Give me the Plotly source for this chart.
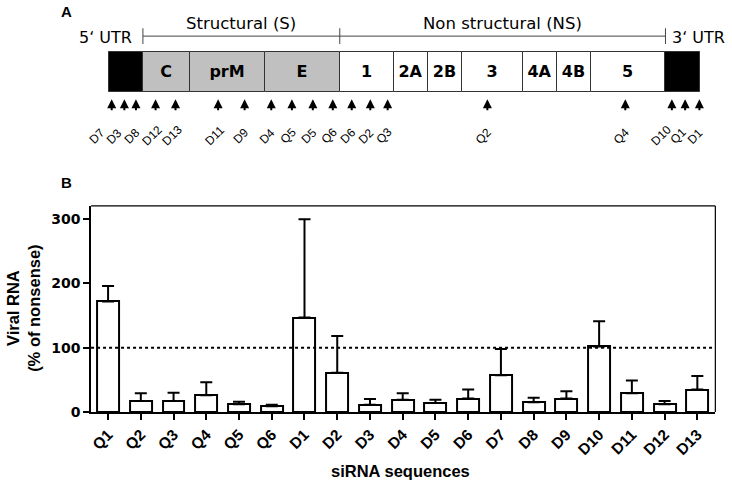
import plotly.graph_objects as go

# ---------------- data ----------------
sirna = ["Q1", "Q2", "Q3", "Q4", "Q5", "Q6", "D1", "D2", "D3", "D4", "D5", "D6",
         "D7", "D8", "D9", "D10", "D11", "D12", "D13"]
viral_rna = [172, 17, 17, 26, 12, 9, 147, 61, 11, 19, 14, 21, 57, 15, 21, 102, 29, 12, 35]
err_upper = [24, 12, 13, 20, 4, 2, 153, 57, 9, 10, 5, 14, 41, 7, 11, 39, 20, 5, 21]

seg_names = ["", "C", "prM", "E", "1", "2A", "2B", "3", "4A", "4B", "5", ""]
seg_starts = [0, 34, 81.4, 156.7, 231.4, 285.4, 320, 354, 415.4, 449.4, 483.4, 558]
seg_ends = [34, 81.4, 156.7, 231.4, 285.4, 320, 354, 415.4, 449.4, 483.4, 558, 592.7]
seg_colors = ["black", "#c0c0c0", "#c0c0c0", "#c0c0c0", "white", "white", "white",
              "white", "white", "white", "white", "black"]

site_names = ["D7", "D3", "D8", "D12", "D13", "D11", "D9", "D4", "Q5", "D5", "Q6",
              "D6", "D2", "Q3", "Q2", "Q4", "D10", "Q1", "D1"]
site_pos = [2.7, 15.4, 27, 46.7, 66.7, 109.4, 136, 162.7, 183.4, 204.4, 224.4,
            243.4, 262, 279.4, 379.4, 517.7, 564.4, 577.7, 592]

ARIAL = "Liberation Sans, Arial, sans-serif"
DEJAVU = "DejaVu Sans, sans-serif"

W, H = 732, 494
# genome panel geometry (page pixels)
G_LEFT, G_RIGHT = 107.3, 700.0
G_TOP, G_BOT = 52.7, 94.0
UNIT = G_BOT - G_TOP


def py2(p):
    """page pixel row -> genome-panel y value"""
    return 0.5 - (p - G_TOP) / UNIT


fig = go.Figure()

# ---------------- panel B: bar chart ----------------
fig.add_trace(go.Bar(
    x=list(range(len(sirna))), y=viral_rna, width=0.67,
    marker=dict(color="white", line=dict(color="black", width=2)),
    error_y=dict(type="data", array=err_upper, arrayminus=[0] * len(err_upper),
                 symmetric=False, color="black", thickness=2, width=6),
    xaxis="x", yaxis="y", showlegend=False,
))

fig.add_shape(type="line", xref="x domain", yref="y", x0=0, x1=1, y0=100, y1=100,
              line=dict(color="black", width=2, dash="dot"))

# ---------------- panel A: genome map ----------------
fig.add_trace(go.Bar(
    y=[0] * len(seg_names), x=[e - s for s, e in zip(seg_starts, seg_ends)],
    base=seg_starts, orientation="h", width=1,
    marker=dict(color=seg_colors, line=dict(color="#333333", width=1)),
    text=seg_names, textposition="inside", insidetextanchor="middle",
    textfont=dict(family=DEJAVU, size=16, color="black"),
    texttemplate="<b>%{text}</b>", hoverinfo="skip", cliponaxis=False,
    xaxis="x2", yaxis="y2", showlegend=False,
))

# brackets for structural / non-structural regions
s_start, s_end = seg_starts[1], seg_ends[3]
ns_start, ns_end = seg_starts[4], seg_ends[10]
br_y = py2(36.7)
tick_h = 8 / UNIT
for x0, x1 in [(s_start, s_end), (ns_start, ns_end)]:
    fig.add_shape(type="line", xref="x2", yref="y2", x0=x0, x1=x1, y0=br_y, y1=br_y,
                  line=dict(color="#444444", width=1))
for xv in [s_start, s_end, ns_end]:
    fig.add_shape(type="line", xref="x2", yref="y2", x0=xv, x1=xv,
                  y0=br_y - tick_h, y1=br_y + tick_h,
                  line=dict(color="#444444", width=1))

ann = []
ann.append(dict(x=(s_start + s_end) / 2, y=py2(23.5), xref="x2", yref="y2",
                xanchor="center", yanchor="middle",
                text="Structural (S)", showarrow=False,
                font=dict(family=DEJAVU, size=16.5, color="black")))
ann.append(dict(x=(ns_start + ns_end) / 2, y=py2(23.5), xref="x2", yref="y2",
                xanchor="center", yanchor="middle",
                text="Non structural (NS)", showarrow=False,
                font=dict(family=DEJAVU, size=16.5, color="black")))
ann.append(dict(x=s_start - 8.6, y=py2(38.5), xref="x2", yref="y2", xanchor="right",
                yanchor="middle", text="5‘ UTR", showarrow=False,
                font=dict(family=DEJAVU, size=16, color="black")))
ann.append(dict(x=ns_end + 5, y=py2(38.5), xref="x2", yref="y2", xanchor="left",
                yanchor="middle", text="3‘ UTR", showarrow=False,
                font=dict(family=DEJAVU, size=16, color="black")))

# arrows and rotated labels (labels pushed apart where crowded)
label_x = [p - 4 for p in site_pos]
for i in range(len(label_x) - 2, -1, -1):
    label_x[i] = min(label_x[i], label_x[i + 1] - 17.5)

for name, pos, lx in zip(site_names, site_pos, label_x):
    ann.append(dict(x=pos, y=py2(101), ax=pos, ay=py2(112.5), xref="x2", yref="y2",
                    axref="x2", ayref="y2", text="", showarrow=True,
                    font=dict(size=1), borderpad=0,
                    arrowhead=2, arrowsize=0.9, arrowwidth=2, arrowcolor="black"))
    ann.append(dict(x=lx, y=py2(138), xref="x2", yref="y2", text=name,
                    xanchor="center", yanchor="middle",
                    textangle=-45, showarrow=False,
                    font=dict(family=ARIAL, size=12, color="black")))

# panel letters and titles
ann.append(dict(x=65 / W, y=1 - 12 / H, xref="paper", yref="paper", text="<b>A</b>",
                xanchor="center", yanchor="middle",
                showarrow=False, font=dict(family=ARIAL, size=15, color="black")))
ann.append(dict(x=65 / W, y=1 - 185 / H, xref="paper", yref="paper", text="<b>B</b>",
                xanchor="center", yanchor="middle",
                showarrow=False, font=dict(family=ARIAL, size=15, color="black")))
ann.append(dict(x=22 / W, y=1 - 313 / H, xref="paper", yref="paper",
                xanchor="center", yanchor="middle",
                text="<b>Viral RNA<br>(% of nonsense)</b>", textangle=-90,
                showarrow=False, font=dict(family=ARIAL, size=16.5, color="black")))
ann.append(dict(x=400 / W, y=1 - 479 / H, xref="paper", yref="paper",
                xanchor="center", yanchor="middle",
                text="<b>siRNA sequences</b>",
                showarrow=False, font=dict(family=ARIAL, size=16.5, color="black")))

fig.update_layout(
    width=W, height=H, margin=dict(l=0, r=0, t=0, b=0),
    paper_bgcolor="white", plot_bgcolor="white", bargap=0,
    annotations=ann,
    xaxis=dict(domain=[89.3 / W, 715.3 / W], range=[-0.52, 18.55],
               tickmode="array", tickvals=list(range(len(sirna))),
               ticktext=["<b>%s</b>" % s for s in sirna], tickangle=-45,
               tickfont=dict(family=ARIAL, size=15.5, color="black"),
               ticks="outside", ticklen=6, tickwidth=1.5, tickcolor="black",
               showline=True, linecolor="black", linewidth=1.5, mirror=False,
               showgrid=False, zeroline=False, fixedrange=True),
    yaxis=dict(domain=[(H - 418.7) / H, (H - 209.3) / H], range=[0, 320.6],
               tickvals=[0, 100, 200, 300],
               ticktext=["<b>0</b>", "<b>100</b>", "<b>200</b>", "<b>300</b>"],
               tickfont=dict(family=DEJAVU, size=14, color="black"),
               ticks="outside", ticklen=6, tickwidth=1.5, tickcolor="black",
               showline=True, linecolor="black", linewidth=1.5,
               showgrid=False, zeroline=False, fixedrange=True),
    xaxis2=dict(domain=[0, 1], range=[-G_LEFT, W - G_LEFT], anchor="y2",
                visible=False, fixedrange=True),
    yaxis2=dict(domain=[1 - 160 / H, 1], range=[py2(160), py2(0)],
                anchor="x2", visible=False, fixedrange=True),
)

# frame: top and right border of the plot area
fig.add_shape(type="line", xref="x domain", yref="y domain", x0=0, x1=1, y0=1, y1=1,
              line=dict(color="black", width=1.2))
fig.add_shape(type="line", xref="x domain", yref="y domain", x0=1, x1=1, y0=0, y1=1,
              line=dict(color="black", width=1.2))

fig.write_html("out.html", config={"displayModeBar": False},
               post_script="document.body.style.margin='0';")
